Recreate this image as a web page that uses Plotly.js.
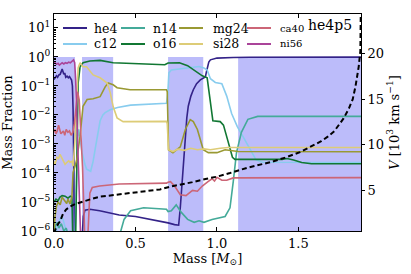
<!DOCTYPE html>
<html>
<head>
<meta charset="utf-8">
<script src="https://cdn.plot.ly/plotly-3.0.1.min.js"></script>
<style>html,body{margin:0;padding:0;background:#fff;}#chart{width:411px;height:274px;}</style>
</head>
<body>
<div id="chart"></div>
<script>
// ---- data (mass in solar masses, abundances as log10 mass fraction) ----
var speciesNames = ["he4","c12","n14","o16","mg24","si28","ca40","ni56"];
var speciesColors = ["#332288","#88CCEE","#44AA99","#117733","#999933","#DDCC77","#CC6677","#AA4499"];

var he4M = [0,0.008,0.015,0.022,0.03,0.038,0.045,0.05,0.055,0.06,0.066,0.072,0.08,0.088,0.095,0.102,0.108,0.113,0.117,0.121,0.125,0.17,0.18,0.19,0.22,0.28,0.34,0.36,0.4,0.5,0.6,0.68,0.7,0.74,0.765,0.775,0.787,0.796,0.806,0.815,0.824,0.84,0.855,0.875,0.898,0.915,0.929,0.936,0.941,0.95,0.96,0.98,1.0,1.1,1.2,1.884];
var he4L = [-0.78,-0.72,-0.65,-0.7,-0.62,-0.6,-0.52,-0.42,-0.5,-0.6,-0.55,-0.7,-0.66,-0.72,-0.68,-0.78,-0.8,-1.0,-1.8,-3.5,-6.5,-6.5,-5.5,-5.28,-5.25,-5.3,-5.38,-5.42,-5.45,-5.5,-5.6,-5.68,-5.72,-5.78,-5.8,-5.2,-4.3,-3.4,-2.6,-2.1,-1.7,-1.35,-1.13,-0.92,-0.79,-0.73,-0.69,-0.5,-0.34,-0.18,-0.1,-0.06,-0.04,-0.02,-0.01,-0.005];

var c12M = [0,0.015,0.03,0.045,0.055,0.07,0.085,0.1,0.12,0.13,0.138,0.145,0.152,0.16,0.172,0.19,0.2,0.225,0.24,0.255,0.264,0.283,0.3,0.314,0.345,0.39,0.47,0.6,0.69,0.698,0.705,0.72,0.76,0.8,0.85,0.89,0.92,0.94,0.96,0.99,1.03,1.06,1.09,1.125,1.16,1.2,1.24,1.28,1.884];
var c12L = [-6.3,-6.0,-5.7,-5.5,-5.6,-5.9,-6.2,-6.4,-7,-6,-4,-2.8,-2.5,-2.9,-3.3,-3.7,-3.87,-3.94,-3.6,-3.1,-2.8,-2.2,-2.0,-1.92,-1.82,-1.74,-1.66,-1.62,-1.6,-1.3,-0.55,-0.45,-0.42,-0.4,-0.36,-0.33,-0.38,-0.45,-0.75,-0.88,-0.92,-1.35,-1.95,-2.4,-2.75,-3.15,-3.55,-3.63,-3.64];

var n14M = [0,0.01,0.02,0.03,0.045,0.06,0.075,0.09,0.1,0.11,0.12,0.4,0.41,0.43,0.47,0.55,0.69,0.7,0.72,0.75,0.78,0.82,0.86,0.89,0.92,0.97,1.05,1.08,1.1,1.12,1.15,1.19,1.25,1.884];
var n14L = [-6.1,-5.8,-5.7,-5.9,-5.75,-6.0,-5.9,-6.2,-6.0,-6.3,-7,-7,-6.0,-5.6,-5.3,-5.2,-5.25,-5.33,-5.3,-5.1,-5.35,-5.6,-5.7,-5.65,-5.7,-5.6,-5.5,-5.2,-4.3,-3.3,-2.6,-2.15,-2.05,-2.05];

var o16M = [0,0.012,0.025,0.037,0.05,0.068,0.086,0.1,0.11,0.113,0.116,0.132,0.14,0.148,0.16,0.178,0.22,0.283,0.363,0.5,0.68,0.7,0.77,0.82,0.87,0.91,0.94,0.95,0.965,0.975,1.02,1.04,1.065,1.095,1.11,1.4,1.43,1.47,1.52,1.58,1.884];
var o16L = [-5.0,-4.9,-4.95,-4.83,-4.78,-4.8,-4.87,-4.8,-4.83,-5.5,-6.5,-6.5,-2.85,-0.9,-0.34,-0.2,-0.14,-0.12,-0.2,-0.24,-0.27,-0.21,-0.2,-0.3,-0.5,-0.65,-0.72,-1.2,-1.9,-2.2,-2.23,-2.35,-2.85,-3.46,-3.53,-3.53,-3.5,-3.55,-3.64,-3.68,-3.68];

var mg24M = [0,0.006,0.015,0.025,0.038,0.05,0.058,0.068,0.078,0.086,0.098,0.11,0.117,0.129,0.14,0.16,0.178,0.203,0.24,0.283,0.314,0.332,0.363,0.387,0.467,0.69,0.695,0.703,0.73,0.775,0.806,0.836,0.855,0.88,0.9,0.916,0.947,1.0,1.05,1.13,1.884];
var mg24L = [-6.0,-5.5,-5.15,-5.0,-5.1,-4.83,-4.9,-5.0,-5.05,-4.9,-5.07,-4.83,-3.98,-3.77,-3.53,-2.74,-1.7,-1.47,-1.44,-1.37,-1.03,-0.9,-0.96,-1.06,-1.13,-1.13,-1.2,-3.2,-3.3,-3.1,-2.5,-2.16,-2.23,-2.5,-2.85,-3.2,-3.3,-3.3,-3.2,-3.26,-3.27];

var si28M = [0,0.006,0.018,0.028,0.037,0.046,0.055,0.068,0.08,0.09,0.098,0.11,0.117,0.129,0.14,0.148,0.16,0.178,0.2,0.24,0.283,0.326,0.345,0.363,0.387,0.424,0.69,0.695,0.703,0.73,0.76,0.8,0.84,0.88,0.92,0.96,1.02,1.07,1.884];
var si28L = [-3.6,-3.7,-3.46,-3.5,-3.36,-3.45,-3.53,-3.7,-3.63,-3.58,-3.63,-3.6,-3.77,-2.85,-1.47,-0.38,-0.2,-0.34,-0.34,-0.62,-0.72,-0.9,-1.23,-1.71,-2.1,-2.23,-2.22,-2.3,-3.2,-3.26,-3.18,-3.22,-3.15,-3.2,-3.17,-3.2,-3.15,-3.12,-3.12];

var ca40M = [0,0.006,0.012,0.02,0.028,0.035,0.042,0.05,0.058,0.066,0.075,0.085,0.095,0.105,0.115,0.125,0.135,0.145,0.155,0.165,0.175,0.185,0.19,0.205,0.212,0.22,0.235,0.28,0.4,0.55,0.69,0.7,0.715,0.74,0.775,0.81,0.85,0.88,0.91,0.945,0.97,0.985,1.0,1.03,1.06,1.1,1.884];
var ca40L = [-2.6,-2.5,-2.65,-2.55,-2.35,-2.5,-2.65,-2.6,-2.55,-2.7,-2.5,-2.6,-2.55,-2.7,-2.6,-2.3,-1.6,-1.2,-1.5,-2.5,-3.8,-5.5,-6.5,-6.5,-5.3,-4.7,-4.5,-4.45,-4.38,-4.36,-4.35,-4.32,-4.3,-4.45,-4.75,-4.78,-4.6,-4.63,-4.45,-4.3,-4.2,-4.28,-4.15,-4.25,-4.25,-4.17,-4.16];

var ni56M = [0,0.008,0.016,0.025,0.033,0.04,0.05,0.06,0.07,0.08,0.09,0.1,0.11,0.12,0.127,0.133,0.14,0.148,0.155,0.165,1.884];
var ni56L = [-0.17,-0.2,-0.25,-0.22,-0.28,-0.25,-0.2,-0.24,-0.2,-0.22,-0.18,-0.2,-0.15,-0.1,-0.2,-0.8,-2.0,-3.5,-5.0,-6.5,-6.5];

// velocity profile (10^3 km/s)
var velM = [0,0.01,0.018,0.037,0.055,0.075,0.098,0.13,0.178,0.23,0.283,0.35,0.406,0.47,0.51,0.6,0.65,0.713,0.775,0.85,0.93,1.0,1.08,1.19,1.33,1.42,1.51,1.58,1.64,1.68,1.72,1.777,1.81,1.833,1.85,1.87,1.88,1.8835];
var velV = [0.3,0.7,1.1,1.6,2.4,2.9,3.2,3.5,3.8,4.05,4.3,4.45,4.6,4.7,4.8,5.0,5.1,5.4,5.6,5.9,6.25,6.5,6.9,7.5,8.1,8.6,9.2,9.8,10.4,10.9,11.5,12.9,14.0,15.0,16.4,18.6,20.3,26];

// shaded zones
var bandStart = [0, 0.172, 0.70, 1.130];
var bandEnd   = [0.129, 0.363, 0.916, 1.884];

// axis ticks
var yTickExp = [-6,-5,-4,-3,-2,-1,0,1];
var xTickVals = [0, 0.5, 1.0, 1.5];
var vTickVals = [5, 10, 15, 20];

var modelLabel = "he4p5";

// ---- build ----
var massArr = [he4M,c12M,n14M,o16M,mg24M,si28M,ca40M,ni56M];
var logArr  = [he4L,c12L,n14L,o16L,mg24L,si28L,ca40L,ni56L];
var FONT = "DejaVu Serif";
var traces = [];

for (var b = 0; b < bandStart.length; b++) {
  traces.push({
    x: [bandStart[b], bandStart[b], bandEnd[b], bandEnd[b], bandStart[b]],
    y: [1e-7, 1, 1, 1e-7, 1e-7],
    type: "scatter", mode: "lines", fill: "toself",
    fillcolor: "rgb(188,188,250)", line: {width: 0, color: "rgba(0,0,0,0)"},
    showlegend: false, hoverinfo: "skip"
  });
}
for (var i = 0; i < speciesNames.length; i++) {
  traces.push({
    x: massArr[i],
    y: logArr[i].map(function(v){return Math.pow(10,v);}),
    type: "scatter", mode: "lines", name: speciesNames[i],
    line: {color: speciesColors[i], width: 1.6},
    showlegend: false, hoverinfo: "skip"
  });
}
traces.push({
  x: velM, y: velV, yaxis: "y2", type: "scatter", mode: "lines",
  line: {color: "black", width: 2, dash: "5px,3px"},
  showlegend: false, hoverinfo: "skip"
});

var shapes = [];
var W = 411, H = 274, ml = 54, mr = 50, mt = 14, mb = 43;
var pw = W - ml - mr, ph = H - mt - mb;
function px2x(p){ return (p - ml) / pw; }
function px2y(p){ return (H - mb - p) / ph; }
var colLineStart = [63, 121, 179, 247];
var colTextStart = [92, 151, 211, 278];
var rowY = [28, 44];
var colFont = [12.5, 12.5, 12.5, 10];
var annotations = [];
for (var k = 0; k < speciesNames.length; k++) {
  var col = Math.floor(k / 2), row = k % 2;
  shapes.push({type: "line", xref: "paper", yref: "paper",
    x0: px2x(colLineStart[col]), x1: px2x(colLineStart[col] + 24),
    y0: px2y(rowY[row]), y1: px2y(rowY[row]),
    line: {color: speciesColors[k], width: 2}});
  annotations.push({xref: "paper", yref: "paper", x: px2x(colTextStart[col]), y: px2y(rowY[row]),
    xanchor: "left", yanchor: "middle", text: speciesNames[k], showarrow: false,
    font: {family: FONT, size: colFont[col], color: "black"}});
}
annotations.push({xref: "paper", yref: "paper", x: px2x(354), y: px2y(25),
  xanchor: "right", yanchor: "middle", text: modelLabel, showarrow: false,
  font: {family: FONT, size: 14, color: "black"}});

var layout = {
  width: W, height: H,
  margin: {l: ml, r: mr, t: mt, b: mb, pad: 0},
  paper_bgcolor: "white", plot_bgcolor: "white",
  font: {family: FONT, size: 13, color: "black"},
  showlegend: false,
  xaxis: {
    range: [0, 1.884], tickmode: "array", tickvals: xTickVals,
    ticktext: xTickVals.map(function(v){return v.toFixed(1);}),
    ticks: "inside", ticklen: 4, tickcolor: "black", mirror: "ticks",
    showline: true, linecolor: "black", linewidth: 1,
    showgrid: false, zeroline: false, automargin: true,
    tickfont: {family: FONT, size: 13},
    title: {text: "Mass [<i>M</i><sub>⊙</sub>]", font: {family: FONT, size: 13}, standoff: 1}
  },
  yaxis: {
    type: "log", range: [-6, 1.48], tickmode: "array",
    tickvals: yTickExp.map(function(e){return Math.pow(10,e);}),
    ticktext: yTickExp.map(function(e){return "10<sup>" + (e < 0 ? "−" + (-e) : e) + "</sup>";}),
    ticks: "inside", ticklen: 4, tickcolor: "black",
    minor: {ticks: "inside", ticklen: 2, tickcolor: "black", showgrid: false, dtick: "D1"},
    showline: true, linecolor: "black", linewidth: 1, mirror: true,
    showgrid: false, zeroline: false,
    tickfont: {family: FONT, size: 13},
    title: {text: "Mass Fraction", font: {family: FONT, size: 13}, standoff: 4}
  },
  yaxis2: {
    overlaying: "y", side: "right", range: [0.53, 24.38],
    tickmode: "array", tickvals: vTickVals, ticks: "outside", ticklen: 3, tickcolor: "black",
    showline: false, showgrid: false, zeroline: false,
    tickfont: {family: FONT, size: 13},
    title: {text: "<i>V</i> [10<sup>3</sup> km s<sup>−1</sup>]", font: {family: FONT, size: 13}, standoff: 6}
  },
  shapes: shapes,
  annotations: annotations
};

Plotly.newPlot("chart", traces, layout, {staticPlot: true, displayModeBar: false});
</script>
</body>
</html>
